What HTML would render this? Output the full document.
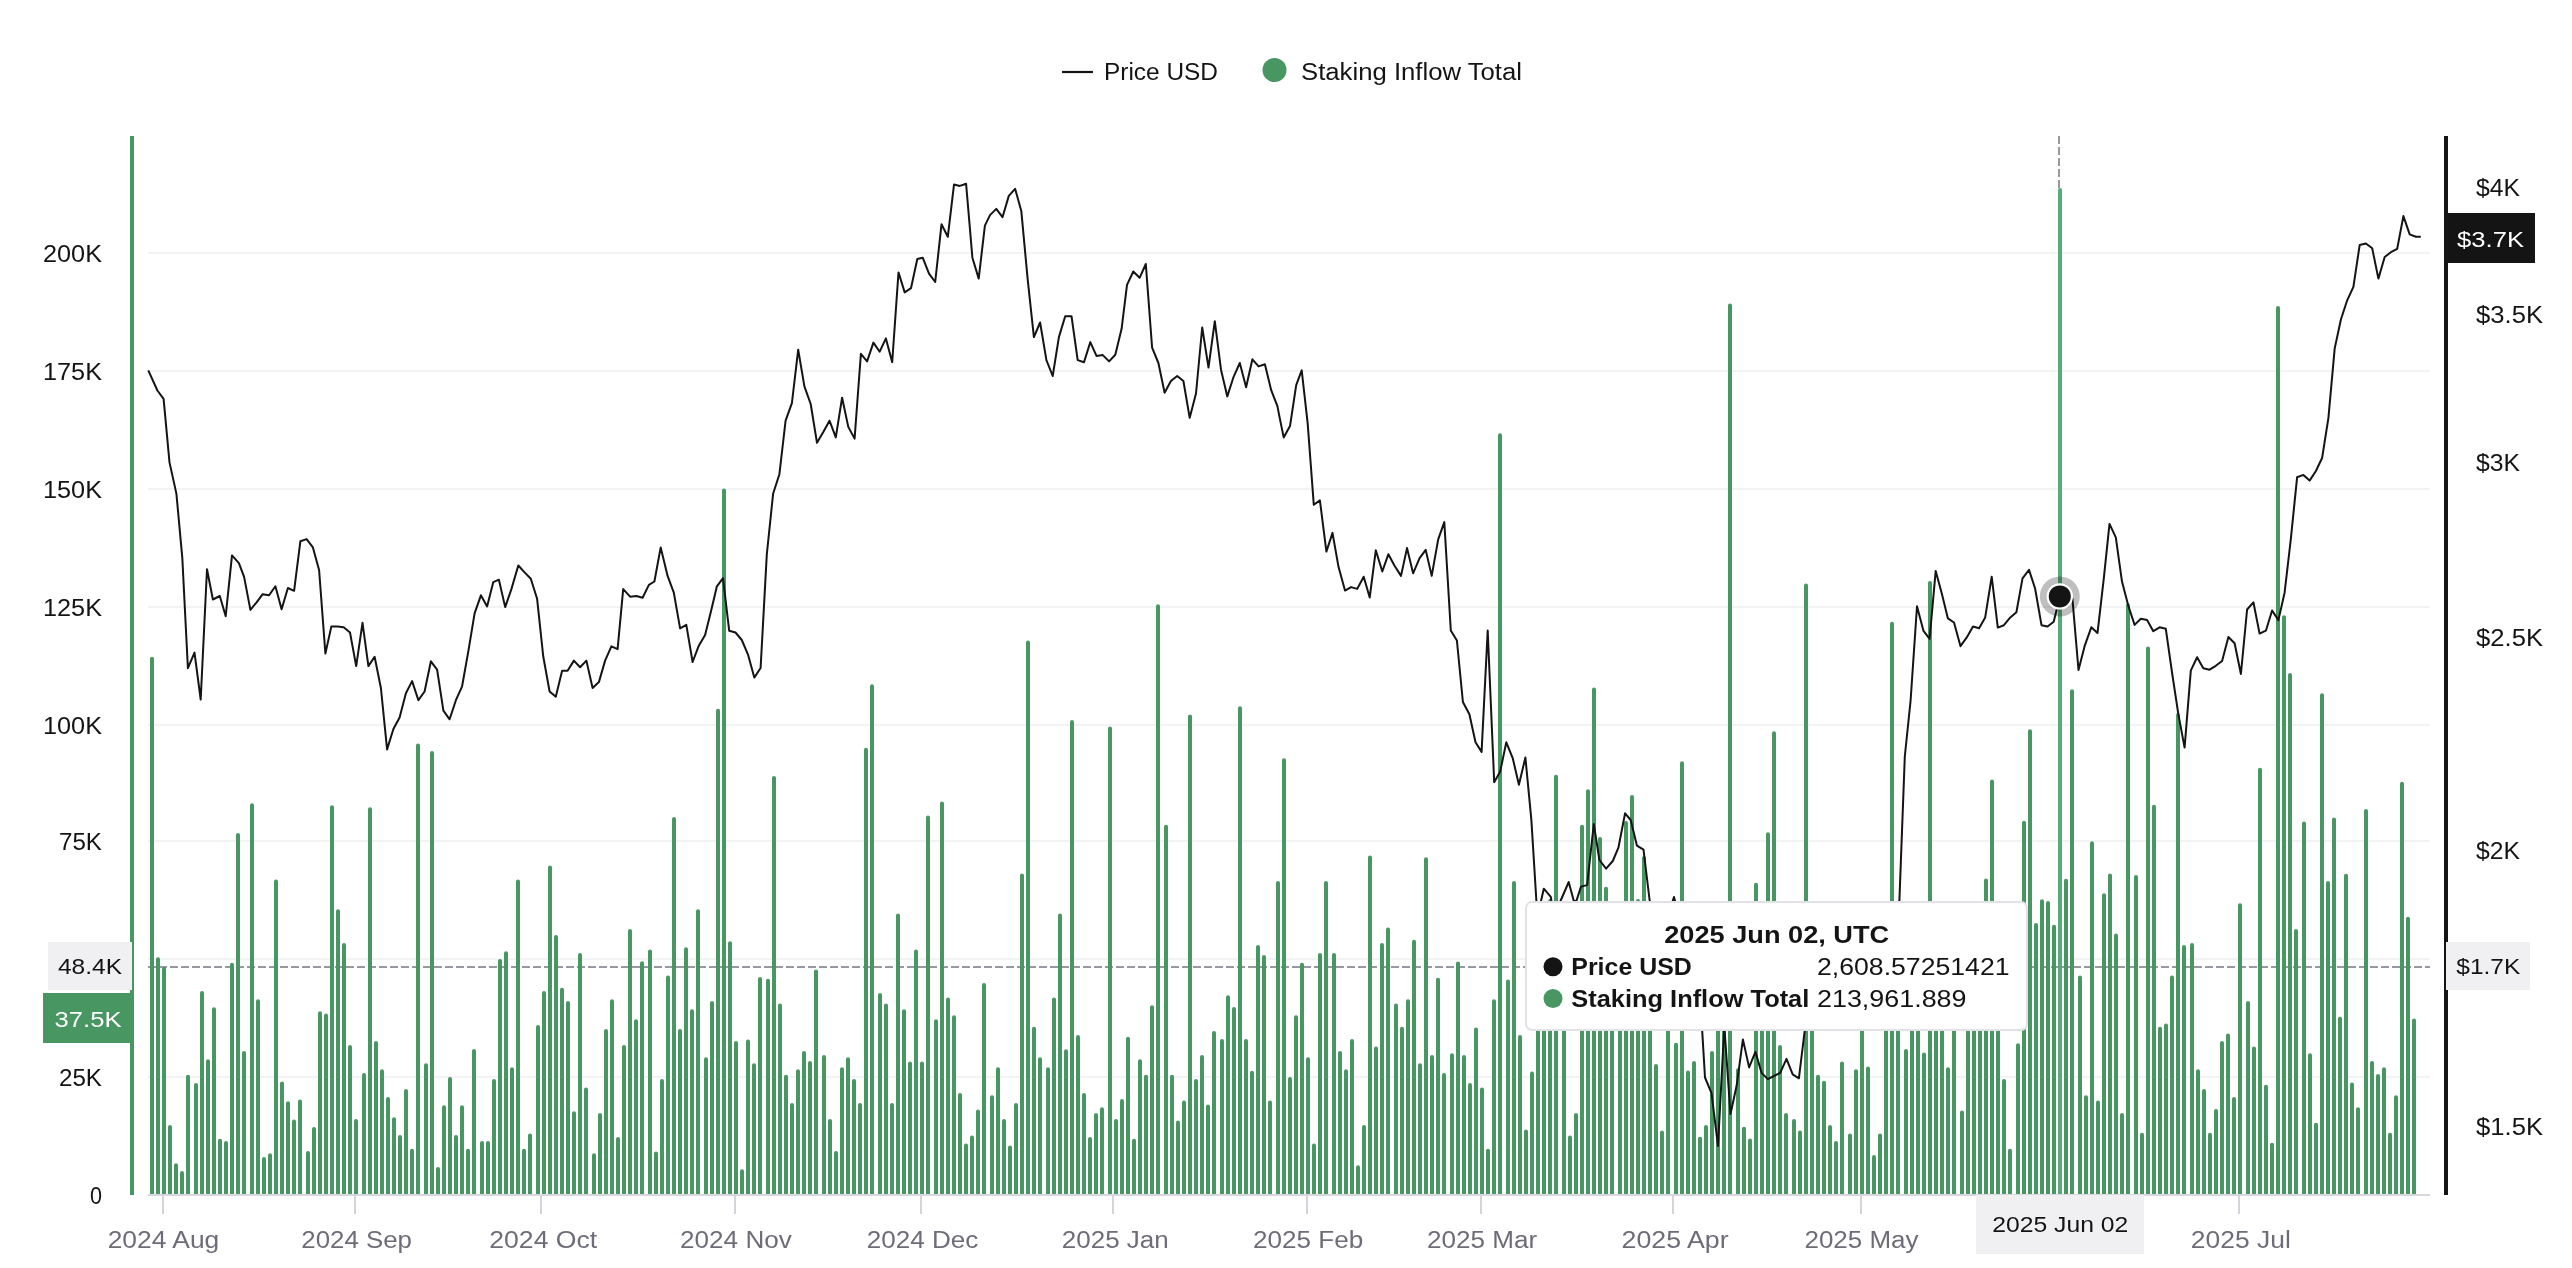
<!DOCTYPE html>
<html><head><meta charset="utf-8"><style>html,body{margin:0;padding:0;background:#fff;overflow:hidden}svg{display:block;will-change:transform}</style></head><body>
<svg width="2572" height="1268" viewBox="0 0 2572 1268" font-family="Liberation Sans, sans-serif">
<rect width="2572" height="1268" fill="#ffffff"/>
<line x1="1062" y1="72" x2="1093" y2="72" stroke="#141414" stroke-width="2.2"/>
<text x="1104" y="79.7" font-size="23" fill="#141414" font-weight="normal" textLength="114" lengthAdjust="spacingAndGlyphs">Price USD</text>
<circle cx="1274.5" cy="70" r="12" fill="#489662"/>
<text x="1301" y="79.7" font-size="23" fill="#141414" font-weight="normal" textLength="221" lengthAdjust="spacingAndGlyphs">Staking Inflow Total</text>
<rect x="148" y="1076" width="2282" height="2" fill="#f3f3f6"/>
<rect x="148" y="958" width="2282" height="2" fill="#f3f3f6"/>
<rect x="148" y="840" width="2282" height="2" fill="#f3f3f6"/>
<rect x="148" y="724" width="2282" height="2" fill="#f3f3f6"/>
<rect x="148" y="606" width="2282" height="2" fill="#f3f3f6"/>
<rect x="148" y="488" width="2282" height="2" fill="#f3f3f6"/>
<rect x="148" y="370" width="2282" height="2" fill="#f3f3f6"/>
<rect x="148" y="252" width="2282" height="2" fill="#f3f3f6"/>
<text x="43" y="262" font-size="23" fill="#141414" font-weight="normal" textLength="59" lengthAdjust="spacingAndGlyphs">200K</text>
<text x="43" y="380" font-size="23" fill="#141414" font-weight="normal" textLength="59" lengthAdjust="spacingAndGlyphs">175K</text>
<text x="43" y="498" font-size="23" fill="#141414" font-weight="normal" textLength="59" lengthAdjust="spacingAndGlyphs">150K</text>
<text x="43" y="616" font-size="23" fill="#141414" font-weight="normal" textLength="59" lengthAdjust="spacingAndGlyphs">125K</text>
<text x="43" y="734" font-size="23" fill="#141414" font-weight="normal" textLength="59" lengthAdjust="spacingAndGlyphs">100K</text>
<text x="59" y="850" font-size="23" fill="#141414" font-weight="normal" textLength="43" lengthAdjust="spacingAndGlyphs">75K</text>
<text x="59" y="1086" font-size="23" fill="#141414" font-weight="normal" textLength="43" lengthAdjust="spacingAndGlyphs">25K</text>
<text x="90" y="1204" font-size="23" fill="#141414" font-weight="normal" textLength="12" lengthAdjust="spacingAndGlyphs">0</text>
<text x="2476" y="195.5" font-size="23" fill="#141414" font-weight="normal" textLength="44" lengthAdjust="spacingAndGlyphs">$4K</text>
<text x="2476" y="323.4" font-size="23" fill="#141414" font-weight="normal" textLength="67" lengthAdjust="spacingAndGlyphs">$3.5K</text>
<text x="2476" y="471.1" font-size="23" fill="#141414" font-weight="normal" textLength="44" lengthAdjust="spacingAndGlyphs">$3K</text>
<text x="2476" y="645.7" font-size="23" fill="#141414" font-weight="normal" textLength="67" lengthAdjust="spacingAndGlyphs">$2.5K</text>
<text x="2476" y="859.4" font-size="23" fill="#141414" font-weight="normal" textLength="44" lengthAdjust="spacingAndGlyphs">$2K</text>
<text x="2476" y="1135.0" font-size="23" fill="#141414" font-weight="normal" textLength="67" lengthAdjust="spacingAndGlyphs">$1.5K</text>
<line x1="148" y1="1195" x2="2430" y2="1195" stroke="#d8d6de" stroke-width="2"/>
<rect x="162" y="1195" width="2" height="19" fill="#d5d3db"/>
<rect x="354" y="1195" width="2" height="19" fill="#d5d3db"/>
<rect x="540" y="1195" width="2" height="19" fill="#d5d3db"/>
<rect x="734" y="1195" width="2" height="19" fill="#d5d3db"/>
<rect x="920" y="1195" width="2" height="19" fill="#d5d3db"/>
<rect x="1112" y="1195" width="2" height="19" fill="#d5d3db"/>
<rect x="1306" y="1195" width="2" height="19" fill="#d5d3db"/>
<rect x="1480" y="1195" width="2" height="19" fill="#d5d3db"/>
<rect x="1672" y="1195" width="2" height="19" fill="#d5d3db"/>
<rect x="1860" y="1195" width="2" height="19" fill="#d5d3db"/>
<rect x="2052" y="1195" width="2" height="19" fill="#d5d3db"/>
<rect x="2238" y="1195" width="2" height="19" fill="#d5d3db"/>
<text x="107.7" y="1248.3" font-size="23" fill="#6e6c78" font-weight="normal" textLength="111.6" lengthAdjust="spacingAndGlyphs">2024 Aug</text>
<text x="301.3" y="1248.3" font-size="23" fill="#6e6c78" font-weight="normal" textLength="110.7" lengthAdjust="spacingAndGlyphs">2024 Sep</text>
<text x="489.3" y="1248.3" font-size="23" fill="#6e6c78" font-weight="normal" textLength="107.9" lengthAdjust="spacingAndGlyphs">2024 Oct</text>
<text x="680.1" y="1248.3" font-size="23" fill="#6e6c78" font-weight="normal" textLength="111.7" lengthAdjust="spacingAndGlyphs">2024 Nov</text>
<text x="866.8" y="1248.3" font-size="23" fill="#6e6c78" font-weight="normal" textLength="111.6" lengthAdjust="spacingAndGlyphs">2024 Dec</text>
<text x="1061.8" y="1248.3" font-size="23" fill="#6e6c78" font-weight="normal" textLength="107.0" lengthAdjust="spacingAndGlyphs">2025 Jan</text>
<text x="1253" y="1248.3" font-size="23" fill="#6e6c78" font-weight="normal" textLength="110.2" lengthAdjust="spacingAndGlyphs">2025 Feb</text>
<text x="1427" y="1248.3" font-size="23" fill="#6e6c78" font-weight="normal" textLength="110.3" lengthAdjust="spacingAndGlyphs">2025 Mar</text>
<text x="1621.6" y="1248.3" font-size="23" fill="#6e6c78" font-weight="normal" textLength="107.0" lengthAdjust="spacingAndGlyphs">2025 Apr</text>
<text x="1804.5" y="1248.3" font-size="23" fill="#6e6c78" font-weight="normal" textLength="114.0" lengthAdjust="spacingAndGlyphs">2025 May</text>
<text x="2190.8" y="1248.3" font-size="23" fill="#6e6c78" font-weight="normal" textLength="100.0" lengthAdjust="spacingAndGlyphs">2025 Jul</text>
<line x1="148" y1="967" x2="2430" y2="967" stroke="#99979f" stroke-width="2" stroke-dasharray="8 3"/>
<line x1="2059" y1="136" x2="2059" y2="1193" stroke="#99979f" stroke-width="2" stroke-dasharray="8 3"/>
<path fill="#489662" d="M150 1194V658.8a2 2 0 0 1 4 0V1194zM156 1194V959.2a2 2 0 0 1 4 0V1194zM162 1194V969.1a2 2 0 0 1 4 0V1194zM168 1194V1127.1a2 2 0 0 1 4 0V1194zM174 1194V1165.2a2 2 0 0 1 4 0V1194zM180 1194V1172.9a2 2 0 0 1 4 0V1194zM186 1194V1076.8a2 2 0 0 1 4 0V1194zM194 1194V1085.1a2 2 0 0 1 4 0V1194zM200 1194V993.0a2 2 0 0 1 4 0V1194zM206 1194V1061.2a2 2 0 0 1 4 0V1194zM212 1194V1009.2a2 2 0 0 1 4 0V1194zM218 1194V1140.7a2 2 0 0 1 4 0V1194zM224 1194V1143.0a2 2 0 0 1 4 0V1194zM230 1194V964.8a2 2 0 0 1 4 0V1194zM236 1194V835.0a2 2 0 0 1 4 0V1194zM242 1194V1053.0a2 2 0 0 1 4 0V1194zM250 1194V805.2a2 2 0 0 1 4 0V1194zM256 1194V1001.3a2 2 0 0 1 4 0V1194zM262 1194V1158.9a2 2 0 0 1 4 0V1194zM268 1194V1155.3a2 2 0 0 1 4 0V1194zM274 1194V881.4a2 2 0 0 1 4 0V1194zM280 1194V1083.4a2 2 0 0 1 4 0V1194zM286 1194V1103.3a2 2 0 0 1 4 0V1194zM292 1194V1121.5a2 2 0 0 1 4 0V1194zM298 1194V1101.6a2 2 0 0 1 4 0V1194zM306 1194V1153.0a2 2 0 0 1 4 0V1194zM312 1194V1129.1a2 2 0 0 1 4 0V1194zM318 1194V1013.2a2 2 0 0 1 4 0V1194zM324 1194V1015.5a2 2 0 0 1 4 0V1194zM330 1194V807.2a2 2 0 0 1 4 0V1194zM336 1194V911.2a2 2 0 0 1 4 0V1194zM342 1194V945.0a2 2 0 0 1 4 0V1194zM348 1194V1047.0a2 2 0 0 1 4 0V1194zM354 1194V1120.9a2 2 0 0 1 4 0V1194zM362 1194V1075.1a2 2 0 0 1 4 0V1194zM368 1194V809.2a2 2 0 0 1 4 0V1194zM374 1194V1043.0a2 2 0 0 1 4 0V1194zM380 1194V1071.2a2 2 0 0 1 4 0V1194zM386 1194V1099.0a2 2 0 0 1 4 0V1194zM392 1194V1119.2a2 2 0 0 1 4 0V1194zM398 1194V1137.1a2 2 0 0 1 4 0V1194zM404 1194V1091.0a2 2 0 0 1 4 0V1194zM410 1194V1150.7a2 2 0 0 1 4 0V1194zM416 1194V745.5a2 2 0 0 1 4 0V1194zM424 1194V1065.2a2 2 0 0 1 4 0V1194zM430 1194V753.0a2 2 0 0 1 4 0V1194zM436 1194V1168.9a2 2 0 0 1 4 0V1194zM442 1194V1107.3a2 2 0 0 1 4 0V1194zM448 1194V1079.1a2 2 0 0 1 4 0V1194zM454 1194V1137.1a2 2 0 0 1 4 0V1194zM460 1194V1107.3a2 2 0 0 1 4 0V1194zM466 1194V1150.7a2 2 0 0 1 4 0V1194zM472 1194V1051.0a2 2 0 0 1 4 0V1194zM480 1194V1143.0a2 2 0 0 1 4 0V1194zM486 1194V1143.0a2 2 0 0 1 4 0V1194zM492 1194V1081.1a2 2 0 0 1 4 0V1194zM498 1194V960.9a2 2 0 0 1 4 0V1194zM504 1194V953.2a2 2 0 0 1 4 0V1194zM510 1194V1069.2a2 2 0 0 1 4 0V1194zM516 1194V881.4a2 2 0 0 1 4 0V1194zM522 1194V1150.7a2 2 0 0 1 4 0V1194zM528 1194V1135.4a2 2 0 0 1 4 0V1194zM536 1194V1027.1a2 2 0 0 1 4 0V1194zM542 1194V993.0a2 2 0 0 1 4 0V1194zM548 1194V867.5a2 2 0 0 1 4 0V1194zM554 1194V937.0a2 2 0 0 1 4 0V1194zM560 1194V989.7a2 2 0 0 1 4 0V1194zM566 1194V1002.9a2 2 0 0 1 4 0V1194zM572 1194V1113.2a2 2 0 0 1 4 0V1194zM578 1194V954.9a2 2 0 0 1 4 0V1194zM584 1194V1089.4a2 2 0 0 1 4 0V1194zM592 1194V1155.3a2 2 0 0 1 4 0V1194zM598 1194V1114.9a2 2 0 0 1 4 0V1194zM604 1194V1031.1a2 2 0 0 1 4 0V1194zM610 1194V1001.3a2 2 0 0 1 4 0V1194zM616 1194V1139.1a2 2 0 0 1 4 0V1194zM622 1194V1047.0a2 2 0 0 1 4 0V1194zM628 1194V931.1a2 2 0 0 1 4 0V1194zM634 1194V1021.2a2 2 0 0 1 4 0V1194zM640 1194V963.2a2 2 0 0 1 4 0V1194zM648 1194V951.6a2 2 0 0 1 4 0V1194zM654 1194V1153.6a2 2 0 0 1 4 0V1194zM660 1194V1081.1a2 2 0 0 1 4 0V1194zM666 1194V977.4a2 2 0 0 1 4 0V1194zM672 1194V819.1a2 2 0 0 1 4 0V1194zM678 1194V1031.1a2 2 0 0 1 4 0V1194zM684 1194V949.3a2 2 0 0 1 4 0V1194zM690 1194V1011.2a2 2 0 0 1 4 0V1194zM696 1194V911.2a2 2 0 0 1 4 0V1194zM704 1194V1059.2a2 2 0 0 1 4 0V1194zM710 1194V1002.9a2 2 0 0 1 4 0V1194zM716 1194V710.8a2 2 0 0 1 4 0V1194zM722 1194V490.6a2 2 0 0 1 4 0V1194zM728 1194V943.3a2 2 0 0 1 4 0V1194zM734 1194V1043.0a2 2 0 0 1 4 0V1194zM740 1194V1171.2a2 2 0 0 1 4 0V1194zM746 1194V1041.4a2 2 0 0 1 4 0V1194zM752 1194V1065.2a2 2 0 0 1 4 0V1194zM758 1194V979.1a2 2 0 0 1 4 0V1194zM766 1194V980.7a2 2 0 0 1 4 0V1194zM772 1194V778.0a2 2 0 0 1 4 0V1194zM778 1194V1005.6a2 2 0 0 1 4 0V1194zM784 1194V1076.8a2 2 0 0 1 4 0V1194zM790 1194V1105.0a2 2 0 0 1 4 0V1194zM796 1194V1071.2a2 2 0 0 1 4 0V1194zM802 1194V1053.0a2 2 0 0 1 4 0V1194zM808 1194V1062.9a2 2 0 0 1 4 0V1194zM814 1194V971.5a2 2 0 0 1 4 0V1194zM822 1194V1056.9a2 2 0 0 1 4 0V1194zM828 1194V1120.9a2 2 0 0 1 4 0V1194zM834 1194V1153.0a2 2 0 0 1 4 0V1194zM840 1194V1069.2a2 2 0 0 1 4 0V1194zM846 1194V1059.2a2 2 0 0 1 4 0V1194zM852 1194V1081.1a2 2 0 0 1 4 0V1194zM858 1194V1105.0a2 2 0 0 1 4 0V1194zM864 1194V749.8a2 2 0 0 1 4 0V1194zM870 1194V686.3a2 2 0 0 1 4 0V1194zM878 1194V995.0a2 2 0 0 1 4 0V1194zM884 1194V1005.6a2 2 0 0 1 4 0V1194zM890 1194V1105.0a2 2 0 0 1 4 0V1194zM896 1194V915.5a2 2 0 0 1 4 0V1194zM902 1194V1011.2a2 2 0 0 1 4 0V1194zM908 1194V1063.6a2 2 0 0 1 4 0V1194zM914 1194V951.6a2 2 0 0 1 4 0V1194zM920 1194V1063.6a2 2 0 0 1 4 0V1194zM926 1194V817.4a2 2 0 0 1 4 0V1194zM934 1194V1021.2a2 2 0 0 1 4 0V1194zM940 1194V803.5a2 2 0 0 1 4 0V1194zM946 1194V999.6a2 2 0 0 1 4 0V1194zM952 1194V1017.2a2 2 0 0 1 4 0V1194zM958 1194V1095.0a2 2 0 0 1 4 0V1194zM964 1194V1145.4a2 2 0 0 1 4 0V1194zM970 1194V1137.4a2 2 0 0 1 4 0V1194zM976 1194V1111.6a2 2 0 0 1 4 0V1194zM982 1194V985.0a2 2 0 0 1 4 0V1194zM990 1194V1097.3a2 2 0 0 1 4 0V1194zM996 1194V1069.2a2 2 0 0 1 4 0V1194zM1002 1194V1120.9a2 2 0 0 1 4 0V1194zM1008 1194V1147.4a2 2 0 0 1 4 0V1194zM1014 1194V1105.0a2 2 0 0 1 4 0V1194zM1020 1194V875.4a2 2 0 0 1 4 0V1194zM1026 1194V642.6a2 2 0 0 1 4 0V1194zM1032 1194V1028.8a2 2 0 0 1 4 0V1194zM1038 1194V1059.2a2 2 0 0 1 4 0V1194zM1046 1194V1069.2a2 2 0 0 1 4 0V1194zM1052 1194V999.6a2 2 0 0 1 4 0V1194zM1058 1194V915.5a2 2 0 0 1 4 0V1194zM1064 1194V1051.3a2 2 0 0 1 4 0V1194zM1070 1194V722.0a2 2 0 0 1 4 0V1194zM1076 1194V1037.1a2 2 0 0 1 4 0V1194zM1082 1194V1095.0a2 2 0 0 1 4 0V1194zM1088 1194V1139.1a2 2 0 0 1 4 0V1194zM1094 1194V1114.9a2 2 0 0 1 4 0V1194zM1100 1194V1109.3a2 2 0 0 1 4 0V1194zM1108 1194V728.5a2 2 0 0 1 4 0V1194zM1114 1194V1120.9a2 2 0 0 1 4 0V1194zM1120 1194V1101.0a2 2 0 0 1 4 0V1194zM1126 1194V1038.7a2 2 0 0 1 4 0V1194zM1132 1194V1140.7a2 2 0 0 1 4 0V1194zM1138 1194V1061.2a2 2 0 0 1 4 0V1194zM1144 1194V1076.8a2 2 0 0 1 4 0V1194zM1150 1194V1007.2a2 2 0 0 1 4 0V1194zM1156 1194V606.2a2 2 0 0 1 4 0V1194zM1164 1194V826.7a2 2 0 0 1 4 0V1194zM1170 1194V1076.8a2 2 0 0 1 4 0V1194zM1176 1194V1122.5a2 2 0 0 1 4 0V1194zM1182 1194V1102.6a2 2 0 0 1 4 0V1194zM1188 1194V716.5a2 2 0 0 1 4 0V1194zM1194 1194V1081.1a2 2 0 0 1 4 0V1194zM1200 1194V1056.9a2 2 0 0 1 4 0V1194zM1206 1194V1106.6a2 2 0 0 1 4 0V1194zM1212 1194V1033.1a2 2 0 0 1 4 0V1194zM1220 1194V1041.0a2 2 0 0 1 4 0V1194zM1226 1194V997.3a2 2 0 0 1 4 0V1194zM1232 1194V1008.9a2 2 0 0 1 4 0V1194zM1238 1194V708.2a2 2 0 0 1 4 0V1194zM1244 1194V1041.0a2 2 0 0 1 4 0V1194zM1250 1194V1072.8a2 2 0 0 1 4 0V1194zM1256 1194V947.0a2 2 0 0 1 4 0V1194zM1262 1194V956.9a2 2 0 0 1 4 0V1194zM1268 1194V1102.6a2 2 0 0 1 4 0V1194zM1276 1194V883.0a2 2 0 0 1 4 0V1194zM1282 1194V760.2a2 2 0 0 1 4 0V1194zM1288 1194V1079.1a2 2 0 0 1 4 0V1194zM1294 1194V1017.2a2 2 0 0 1 4 0V1194zM1300 1194V964.8a2 2 0 0 1 4 0V1194zM1306 1194V1059.2a2 2 0 0 1 4 0V1194zM1312 1194V1145.4a2 2 0 0 1 4 0V1194zM1318 1194V954.9a2 2 0 0 1 4 0V1194zM1324 1194V883.0a2 2 0 0 1 4 0V1194zM1332 1194V954.9a2 2 0 0 1 4 0V1194zM1338 1194V1053.0a2 2 0 0 1 4 0V1194zM1344 1194V1071.2a2 2 0 0 1 4 0V1194zM1350 1194V1041.0a2 2 0 0 1 4 0V1194zM1356 1194V1167.2a2 2 0 0 1 4 0V1194zM1362 1194V1127.1a2 2 0 0 1 4 0V1194zM1368 1194V857.5a2 2 0 0 1 4 0V1194zM1374 1194V1048.6a2 2 0 0 1 4 0V1194zM1380 1194V945.0a2 2 0 0 1 4 0V1194zM1386 1194V929.4a2 2 0 0 1 4 0V1194zM1394 1194V1005.6a2 2 0 0 1 4 0V1194zM1400 1194V1028.8a2 2 0 0 1 4 0V1194zM1406 1194V1001.3a2 2 0 0 1 4 0V1194zM1412 1194V941.7a2 2 0 0 1 4 0V1194zM1418 1194V1065.2a2 2 0 0 1 4 0V1194zM1424 1194V859.2a2 2 0 0 1 4 0V1194zM1430 1194V1056.9a2 2 0 0 1 4 0V1194zM1436 1194V979.7a2 2 0 0 1 4 0V1194zM1442 1194V1075.1a2 2 0 0 1 4 0V1194zM1450 1194V1055.3a2 2 0 0 1 4 0V1194zM1456 1194V963.5a2 2 0 0 1 4 0V1194zM1462 1194V1056.9a2 2 0 0 1 4 0V1194zM1468 1194V1085.1a2 2 0 0 1 4 0V1194zM1474 1194V1029.4a2 2 0 0 1 4 0V1194zM1480 1194V1089.4a2 2 0 0 1 4 0V1194zM1486 1194V1150.7a2 2 0 0 1 4 0V1194zM1492 1194V1001.3a2 2 0 0 1 4 0V1194zM1498 1194V435.2a2 2 0 0 1 4 0V1194zM1506 1194V981.4a2 2 0 0 1 4 0V1194zM1512 1194V883.0a2 2 0 0 1 4 0V1194zM1518 1194V1037.1a2 2 0 0 1 4 0V1194zM1524 1194V1131.5a2 2 0 0 1 4 0V1194zM1530 1194V1073.5a2 2 0 0 1 4 0V1194zM1536 1194V967.0a2 2 0 0 1 4 0V1194zM1542 1194V967.0a2 2 0 0 1 4 0V1194zM1548 1194V901.0a2 2 0 0 1 4 0V1194zM1554 1194V776.8a2 2 0 0 1 4 0V1194zM1562 1194V967.0a2 2 0 0 1 4 0V1194zM1568 1194V1137.4a2 2 0 0 1 4 0V1194zM1574 1194V1114.9a2 2 0 0 1 4 0V1194zM1580 1194V826.7a2 2 0 0 1 4 0V1194zM1586 1194V791.3a2 2 0 0 1 4 0V1194zM1592 1194V689.4a2 2 0 0 1 4 0V1194zM1598 1194V839.0a2 2 0 0 1 4 0V1194zM1604 1194V888.7a2 2 0 0 1 4 0V1194zM1610 1194V967.0a2 2 0 0 1 4 0V1194zM1618 1194V967.0a2 2 0 0 1 4 0V1194zM1624 1194V823.0a2 2 0 0 1 4 0V1194zM1630 1194V797.0a2 2 0 0 1 4 0V1194zM1636 1194V901.0a2 2 0 0 1 4 0V1194zM1642 1194V858.0a2 2 0 0 1 4 0V1194zM1648 1194V967.0a2 2 0 0 1 4 0V1194zM1654 1194V1065.9a2 2 0 0 1 4 0V1194zM1660 1194V1132.4a2 2 0 0 1 4 0V1194zM1666 1194V967.0a2 2 0 0 1 4 0V1194zM1674 1194V1044.7a2 2 0 0 1 4 0V1194zM1680 1194V763.2a2 2 0 0 1 4 0V1194zM1686 1194V1072.5a2 2 0 0 1 4 0V1194zM1692 1194V1062.9a2 2 0 0 1 4 0V1194zM1698 1194V1138.7a2 2 0 0 1 4 0V1194zM1704 1194V1127.1a2 2 0 0 1 4 0V1194zM1710 1194V1053.0a2 2 0 0 1 4 0V1194zM1716 1194V967.0a2 2 0 0 1 4 0V1194zM1722 1194V967.0a2 2 0 0 1 4 0V1194zM1728 1194V305.4a2 2 0 0 1 4 0V1194zM1736 1194V1070.2a2 2 0 0 1 4 0V1194zM1742 1194V1128.8a2 2 0 0 1 4 0V1194zM1748 1194V1140.4a2 2 0 0 1 4 0V1194zM1754 1194V884.7a2 2 0 0 1 4 0V1194zM1760 1194V967.0a2 2 0 0 1 4 0V1194zM1766 1194V834.3a2 2 0 0 1 4 0V1194zM1772 1194V733.3a2 2 0 0 1 4 0V1194zM1778 1194V1047.0a2 2 0 0 1 4 0V1194zM1784 1194V1114.9a2 2 0 0 1 4 0V1194zM1792 1194V1120.9a2 2 0 0 1 4 0V1194zM1798 1194V1132.4a2 2 0 0 1 4 0V1194zM1804 1194V585.5a2 2 0 0 1 4 0V1194zM1810 1194V967.0a2 2 0 0 1 4 0V1194zM1816 1194V1076.8a2 2 0 0 1 4 0V1194zM1822 1194V1082.8a2 2 0 0 1 4 0V1194zM1828 1194V1127.1a2 2 0 0 1 4 0V1194zM1834 1194V1143.0a2 2 0 0 1 4 0V1194zM1840 1194V1063.6a2 2 0 0 1 4 0V1194zM1848 1194V1135.4a2 2 0 0 1 4 0V1194zM1854 1194V1071.2a2 2 0 0 1 4 0V1194zM1860 1194V967.0a2 2 0 0 1 4 0V1194zM1866 1194V1068.5a2 2 0 0 1 4 0V1194zM1872 1194V1157.0a2 2 0 0 1 4 0V1194zM1878 1194V1135.4a2 2 0 0 1 4 0V1194zM1884 1194V967.0a2 2 0 0 1 4 0V1194zM1890 1194V623.8a2 2 0 0 1 4 0V1194zM1896 1194V967.0a2 2 0 0 1 4 0V1194zM1904 1194V1051.0a2 2 0 0 1 4 0V1194zM1910 1194V967.0a2 2 0 0 1 4 0V1194zM1916 1194V967.0a2 2 0 0 1 4 0V1194zM1922 1194V1054.6a2 2 0 0 1 4 0V1194zM1928 1194V583.0a2 2 0 0 1 4 0V1194zM1934 1194V967.0a2 2 0 0 1 4 0V1194zM1940 1194V967.0a2 2 0 0 1 4 0V1194zM1946 1194V1069.2a2 2 0 0 1 4 0V1194zM1952 1194V967.0a2 2 0 0 1 4 0V1194zM1960 1194V1112.6a2 2 0 0 1 4 0V1194zM1966 1194V967.0a2 2 0 0 1 4 0V1194zM1972 1194V967.0a2 2 0 0 1 4 0V1194zM1978 1194V967.0a2 2 0 0 1 4 0V1194zM1984 1194V880.4a2 2 0 0 1 4 0V1194zM1990 1194V781.5a2 2 0 0 1 4 0V1194zM1996 1194V967.0a2 2 0 0 1 4 0V1194zM2002 1194V1081.1a2 2 0 0 1 4 0V1194zM2008 1194V1150.7a2 2 0 0 1 4 0V1194zM2016 1194V1045.3a2 2 0 0 1 4 0V1194zM2022 1194V822.7a2 2 0 0 1 4 0V1194zM2028 1194V731.3a2 2 0 0 1 4 0V1194zM2034 1194V925.1a2 2 0 0 1 4 0V1194zM2040 1194V901.2a2 2 0 0 1 4 0V1194zM2046 1194V902.9a2 2 0 0 1 4 0V1194zM2052 1194V926.7a2 2 0 0 1 4 0V1194zM2064 1194V880.7a2 2 0 0 1 4 0V1194zM2070 1194V691.3a2 2 0 0 1 4 0V1194zM2078 1194V977.4a2 2 0 0 1 4 0V1194zM2084 1194V1097.3a2 2 0 0 1 4 0V1194zM2090 1194V843.3a2 2 0 0 1 4 0V1194zM2096 1194V1102.6a2 2 0 0 1 4 0V1194zM2102 1194V895.3a2 2 0 0 1 4 0V1194zM2108 1194V875.4a2 2 0 0 1 4 0V1194zM2114 1194V935.4a2 2 0 0 1 4 0V1194zM2120 1194V1114.9a2 2 0 0 1 4 0V1194zM2126 1194V605.3a2 2 0 0 1 4 0V1194zM2134 1194V877.1a2 2 0 0 1 4 0V1194zM2140 1194V1134.8a2 2 0 0 1 4 0V1194zM2146 1194V648.6a2 2 0 0 1 4 0V1194zM2152 1194V806.8a2 2 0 0 1 4 0V1194zM2158 1194V1028.8a2 2 0 0 1 4 0V1194zM2164 1194V1025.5a2 2 0 0 1 4 0V1194zM2170 1194V977.4a2 2 0 0 1 4 0V1194zM2176 1194V715.0a2 2 0 0 1 4 0V1194zM2182 1194V947.0a2 2 0 0 1 4 0V1194zM2190 1194V945.0a2 2 0 0 1 4 0V1194zM2196 1194V1071.2a2 2 0 0 1 4 0V1194zM2202 1194V1091.0a2 2 0 0 1 4 0V1194zM2208 1194V1134.8a2 2 0 0 1 4 0V1194zM2214 1194V1110.9a2 2 0 0 1 4 0V1194zM2220 1194V1043.0a2 2 0 0 1 4 0V1194zM2226 1194V1035.4a2 2 0 0 1 4 0V1194zM2232 1194V1099.0a2 2 0 0 1 4 0V1194zM2238 1194V905.2a2 2 0 0 1 4 0V1194zM2246 1194V1002.9a2 2 0 0 1 4 0V1194zM2252 1194V1048.6a2 2 0 0 1 4 0V1194zM2258 1194V769.8a2 2 0 0 1 4 0V1194zM2264 1194V1086.7a2 2 0 0 1 4 0V1194zM2270 1194V1144.7a2 2 0 0 1 4 0V1194zM2276 1194V308.0a2 2 0 0 1 4 0V1194zM2282 1194V617.3a2 2 0 0 1 4 0V1194zM2288 1194V675.0a2 2 0 0 1 4 0V1194zM2294 1194V931.1a2 2 0 0 1 4 0V1194zM2302 1194V823.4a2 2 0 0 1 4 0V1194zM2308 1194V1055.3a2 2 0 0 1 4 0V1194zM2314 1194V1124.8a2 2 0 0 1 4 0V1194zM2320 1194V695.2a2 2 0 0 1 4 0V1194zM2326 1194V883.0a2 2 0 0 1 4 0V1194zM2332 1194V819.4a2 2 0 0 1 4 0V1194zM2338 1194V1018.8a2 2 0 0 1 4 0V1194zM2344 1194V875.7a2 2 0 0 1 4 0V1194zM2350 1194V1084.4a2 2 0 0 1 4 0V1194zM2356 1194V1109.3a2 2 0 0 1 4 0V1194zM2364 1194V811.1a2 2 0 0 1 4 0V1194zM2370 1194V1062.9a2 2 0 0 1 4 0V1194zM2376 1194V1076.1a2 2 0 0 1 4 0V1194zM2382 1194V1069.2a2 2 0 0 1 4 0V1194zM2388 1194V1134.8a2 2 0 0 1 4 0V1194zM2394 1194V1097.3a2 2 0 0 1 4 0V1194zM2400 1194V783.7a2 2 0 0 1 4 0V1194zM2406 1194V918.8a2 2 0 0 1 4 0V1194zM2412 1194V1020.5a2 2 0 0 1 4 0V1194z"/>
<path fill="#58aa78" d="M2058 1194V190.0a2 2 0 0 1 4 0V1194z"/>
<rect x="130" y="136" width="4" height="1059" fill="#489662"/>
<rect x="2444" y="136" width="4" height="1059" fill="#141414"/>
<path d="M148.3 370.4 L157.4 390.5 L163.6 398.9 L169.5 462.4 L176.4 493.6 L182.3 557.8 L187.9 668.2 L194.5 652.6 L200.7 699.5 L207.0 569.3 L212.9 599.5 L219.8 596.0 L225.7 616.2 L232.0 555.4 L238.9 563.1 L244.1 576.9 L250.4 609.9 L256.6 602.3 L262.5 594.3 L269.1 595.3 L275.4 586.3 L281.6 609.2 L287.9 588.0 L294.1 590.8 L300.4 541.2 L306.6 539.1 L312.9 547.4 L319.1 570.0 L325.4 653.6 L331.3 626.6 L337.5 626.6 L343.7 627.3 L350.0 632.5 L356.2 666.1 L362.5 622.8 L368.4 666.1 L374.6 656.8 L380.9 688.0 L387.1 749.4 L393.4 729.0 L399.6 717.5 L405.9 693.2 L412.1 681.1 L418.4 700.2 L424.6 691.5 L430.9 661.3 L437.1 669.6 L443.4 710.6 L449.6 719.3 L455.9 700.2 L462.1 686.3 L468.4 650.9 L474.6 613.4 L480.9 595.3 L487.1 606.4 L493.3 582.1 L498.9 579.7 L505.2 607.1 L511.4 589.1 L518.3 565.5 L524.6 572.4 L530.8 578.7 L537.1 598.8 L543.3 656.8 L549.6 691.5 L555.8 696.7 L562.1 670.7 L567.6 670.7 L573.9 660.6 L580.1 667.2 L586.4 660.6 L592.6 688.0 L598.9 682.1 L605.1 660.6 L611.4 646.4 L617.6 649.1 L623.2 589.1 L630.1 596.7 L636.4 596.0 L642.6 597.8 L648.9 584.9 L654.4 581.5 L660.7 547.4 L667.6 575.9 L673.8 592.6 L680.1 628.3 L686.3 624.8 L692.6 662.0 L698.8 645.7 L705.1 634.9 L711.3 609.9 L716.9 586.3 L723.0 578.2 L729.2 630.8 L735.5 632.5 L741.8 640.0 L748.0 654.6 L754.3 677.6 L760.6 668.0 L766.8 554.4 L773.1 493.8 L779.4 474.2 L785.6 420.7 L791.9 403.1 L798.2 349.7 L804.4 386.4 L810.7 404.0 L817.0 442.8 L823.3 432.0 L829.5 420.7 L835.8 437.4 L842.1 397.7 L848.3 426.9 L854.6 438.6 L860.9 353.8 L867.1 361.4 L873.4 342.6 L879.7 351.7 L885.9 338.4 L892.2 362.2 L898.5 272.4 L904.7 292.4 L911.0 288.2 L917.3 259.0 L922.7 257.7 L929.0 273.6 L935.2 282.0 L941.5 224.3 L947.8 236.8 L954.0 184.6 L959.9 185.9 L966.1 183.8 L972.4 257.7 L978.7 278.6 L984.9 225.6 L990.0 215.1 L996.3 208.9 L1002.5 217.2 L1008.8 195.9 L1015.1 188.8 L1021.3 210.9 L1027.6 278.6 L1033.9 337.1 L1040.1 322.5 L1046.4 360.1 L1052.7 376.0 L1058.9 337.1 L1065.2 316.2 L1071.5 316.2 L1077.7 360.1 L1084.0 362.2 L1090.3 342.1 L1096.5 355.9 L1102.8 355.1 L1109.1 361.4 L1115.3 354.7 L1121.6 328.8 L1127.0 284.9 L1133.3 271.5 L1139.6 277.8 L1145.8 264.0 L1152.1 347.6 L1158.4 363.0 L1164.6 392.7 L1170.9 381.0 L1177.2 376.0 L1183.4 381.0 L1189.7 417.8 L1196.0 393.5 L1202.2 327.5 L1208.5 367.6 L1214.8 321.2 L1221.0 369.7 L1227.3 396.4 L1233.6 376.8 L1239.8 363.0 L1246.1 387.3 L1252.4 359.3 L1258.6 366.4 L1264.9 364.3 L1271.2 390.2 L1277.4 406.1 L1280.0 419.4 L1283.7 437.4 L1290.0 426.1 L1296.2 385.2 L1301.7 370.4 L1307.7 423.7 L1313.8 504.8 L1319.9 500.4 L1326.4 551.6 L1332.5 532.9 L1338.5 566.8 L1345.0 590.6 L1351.1 587.1 L1357.2 588.9 L1363.7 576.7 L1369.7 597.5 L1375.8 550.3 L1382.3 571.5 L1388.4 554.2 L1394.4 565.5 L1401.0 575.9 L1407.0 548.1 L1413.1 573.3 L1419.6 558.1 L1425.7 549.9 L1431.7 575.9 L1438.2 539.4 L1444.3 522.1 L1450.8 630.5 L1456.9 640.5 L1462.9 702.0 L1469.4 714.2 L1475.5 742.3 L1481.6 751.9 L1487.7 630.5 L1494.2 782.2 L1500.2 771.4 L1506.3 742.3 L1512.8 758.4 L1518.9 784.8 L1525.4 757.5 L1531.4 820.4 L1538.5 935.0 L1541.0 901.0 L1543.8 888.7 L1550.8 896.9 L1556.0 930.0 L1560.5 901.0 L1568.7 882.0 L1573.8 901.0 L1576.4 901.0 L1581.0 886.6 L1587.1 885.1 L1593.8 824.1 L1599.4 860.0 L1606.1 868.7 L1612.8 861.0 L1618.4 847.7 L1625.1 813.3 L1630.7 820.0 L1636.9 845.6 L1643.5 849.7 L1649.7 901.0 L1656.0 935.0 L1668.0 915.0 L1674.0 897.0 L1690.0 960.0 L1702.2 1030.9 L1705.0 1077.5 L1711.5 1093.1 L1718.0 1146.0 L1724.3 1026.2 L1730.5 1114.1 L1736.7 1085.3 L1742.9 1039.4 L1749.1 1067.4 L1755.4 1051.9 L1761.6 1072.9 L1767.8 1079.1 L1774.0 1076.0 L1780.2 1072.9 L1786.5 1058.9 L1792.7 1074.4 L1798.9 1078.3 L1806.0 1020.0 L1830.0 1000.0 L1860.0 990.0 L1885.0 960.0 L1899.4 900.6 L1904.8 756.5 L1910.6 700.5 L1917.0 606.2 L1923.5 630.9 L1929.6 638.8 L1935.7 570.9 L1941.8 593.6 L1947.9 618.4 L1954.0 622.5 L1960.5 646.2 L1966.6 637.7 L1973.0 626.5 L1979.1 628.2 L1985.2 617.4 L1991.7 576.7 L1997.8 627.6 L2003.9 625.2 L2010.3 617.4 L2016.4 612.3 L2022.5 578.4 L2029.0 569.9 L2035.1 588.5 L2041.5 625.2 L2047.6 626.5 L2053.7 621.8 L2059.9 596.4 L2072.4 598.7 L2078.5 670.0 L2084.6 646.2 L2091.3 627.3 L2097.5 633.1 L2103.8 578.3 L2109.5 523.9 L2115.8 537.4 L2122.0 581.6 L2128.3 605.7 L2134.6 624.9 L2140.8 618.7 L2147.1 620.1 L2153.3 631.2 L2159.6 627.3 L2165.8 628.8 L2172.1 673.0 L2178.3 713.9 L2184.6 747.6 L2190.8 670.6 L2197.1 657.2 L2203.3 668.2 L2209.6 669.7 L2215.8 665.8 L2222.1 661.0 L2228.4 637.0 L2234.6 643.2 L2240.9 674.0 L2247.1 609.5 L2253.4 602.3 L2259.6 633.6 L2265.9 630.7 L2272.1 610.5 L2278.4 620.1 L2284.6 592.7 L2290.9 538.3 L2297.1 477.3 L2303.4 474.9 L2309.6 480.6 L2315.9 471.0 L2322.1 458.0 L2328.4 418.1 L2334.7 348.4 L2340.9 319.5 L2347.2 300.3 L2353.4 286.8 L2359.7 244.9 L2365.9 243.5 L2372.2 248.3 L2378.4 278.6 L2384.7 257.0 L2390.9 252.2 L2397.2 248.8 L2403.4 216.1 L2409.7 234.4 L2415.9 236.8 L2420.8 236.8" fill="none" stroke="#141414" stroke-width="2" stroke-linejoin="round"/>
<circle cx="2059.8" cy="596.4" r="20" fill="rgba(0,0,0,0.25)"/>
<circle cx="2059.8" cy="596.4" r="13.2" fill="#ffffff"/>
<circle cx="2059.8" cy="596.4" r="11" fill="#141414"/>
<rect x="48" y="942" width="84" height="48" fill="#f0f0f3"/>
<text x="58" y="974" font-size="22" fill="#141414" font-weight="normal" textLength="64" lengthAdjust="spacingAndGlyphs">48.4K</text>
<rect x="43" y="993" width="91" height="50" fill="#489662"/>
<text x="54.6" y="1026.7" font-size="22" fill="#ffffff" font-weight="normal" textLength="67" lengthAdjust="spacingAndGlyphs">37.5K</text>
<rect x="2447" y="213" width="88" height="50" fill="#141414"/>
<text x="2457" y="247" font-size="22" fill="#ffffff" font-weight="normal" textLength="67" lengthAdjust="spacingAndGlyphs">$3.7K</text>
<rect x="2446" y="942" width="84" height="48" fill="#f0f0f3"/>
<text x="2456.3" y="973.7" font-size="22" fill="#141414" font-weight="normal" textLength="64" lengthAdjust="spacingAndGlyphs">$1.7K</text>
<rect x="1976" y="1195" width="168" height="59" fill="#f0f0f3"/>
<text x="1992.3" y="1232" font-size="22" fill="#141414" font-weight="normal" textLength="136" lengthAdjust="spacingAndGlyphs">2025 Jun 02</text>
<rect x="1526" y="902" width="501" height="128" rx="6" fill="#ffffff" stroke="#e2e1e8" stroke-width="2"/>
<text x="1664.2" y="943" font-size="23" fill="#141414" font-weight="bold" textLength="225" lengthAdjust="spacingAndGlyphs">2025 Jun 02, UTC</text>
<circle cx="1553" cy="966.8" r="9.5" fill="#141414"/>
<text x="1571.3" y="974.5" font-size="23" fill="#141414" font-weight="bold" textLength="120.5" lengthAdjust="spacingAndGlyphs">Price USD</text>
<text x="1817" y="974.5" font-size="23" fill="#141414" font-weight="normal" textLength="192.5" lengthAdjust="spacingAndGlyphs">2,608.57251421</text>
<circle cx="1553" cy="998.5" r="9.5" fill="#489662"/>
<text x="1571.3" y="1006.7" font-size="23" fill="#141414" font-weight="bold" textLength="238" lengthAdjust="spacingAndGlyphs">Staking Inflow Total</text>
<text x="1817" y="1006.7" font-size="23" fill="#141414" font-weight="normal" textLength="149.5" lengthAdjust="spacingAndGlyphs">213,961.889</text>
</svg>
</body></html>
